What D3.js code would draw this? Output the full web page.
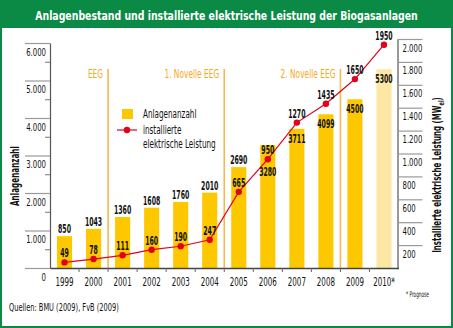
<!DOCTYPE html>
<html>
<head>
<meta charset="utf-8">
<script src="https://cdn.jsdelivr.net/npm/d3@7"></script>
<style>
  body { margin: 0; background: #fff; }
  svg text { font-family: "Liberation Sans Narrow", "DejaVu Sans Condensed", "Liberation Sans", sans-serif; }
</style>
</head>
<body>
<div id="chart"></div>
<script>
// Jahre, Anlagenzahl (linke Achse) und installierte Leistung in MW_el (rechte Achse)
var years = ["1999", "2000", "2001", "2002", "2003", "2004", "2005", "2006", "2007", "2008", "2009", "2010*"];
var anlagen = [850, 1043, 1360, 1608, 1760, 2010, 2690, 3280, 3711, 4099, 4500, 5300];
var leistung = [49, 78, 111, 160, 190, 247, 665, 950, 1270, 1435, 1650, 1950];

var leftTicks = [0, 1000, 2000, 3000, 4000, 5000, 6000];
var leftMinor = [500, 1500, 2500, 3500, 4500, 5500];
var rightTicks = [200, 400, 600, 800, 1000, 1200, 1400, 1600, 1800, 2000];

// EEG-Phasen: Beschriftung und erstes Jahr der Phase
var phaseLabels = ["EEG", "1. Novelle EEG", "2. Novelle EEG"];
var phaseStart = ["2001", "2005", "2009"];

var prognose = "2010*";

var green = "#0b8a46";
var yellow = "#fec800";
var paleYellow = "#fde7a4";
var red = "#e3001b";
var orange = "#f6a821";

var de = d3.formatLocale({ decimal: ",", thousands: ".", grouping: [3], currency: ["", " €"] });
var fmt = de.format(",");

// Schmalschrift nachbilden: Text horizontal um seinen Ankerpunkt stauchen
function squeeze(sel, k, rot) {
    sel.each(function () {
        var t = d3.select(this);
        var tx = +t.attr("x") || 0, ty = +t.attr("y") || 0;
        var f = typeof k === "function" ? k(this) : k;
        t.attr("x", 0).attr("y", 0)
            .attr("transform", "translate(" + tx + "," + ty + ")" + (rot ? " rotate(" + rot + ")" : "") + " scale(" + f + ",1)");
    });
}

function fitTo(w) {
    return function (node) { return Math.min(1, w / node.getComputedTextLength()); };
}

function drawChart() {
    var W = 453, H = 328;
    var base = 268;

    var svg = d3.select("#chart").append("svg")
        .attr("width", W)
        .attr("height", H);

    // Rahmen und Titelbalken
    svg.append("rect")
        .attr("x", 1).attr("y", 1)
        .attr("width", W - 2).attr("height", H - 2)
        .attr("fill", "#fff")
        .attr("stroke", green)
        .attr("stroke-width", 2);

    svg.append("rect")
        .attr("x", 0).attr("y", 0)
        .attr("width", W).attr("height", 28)
        .attr("fill", green);

    var title = svg.append("text")
        .attr("x", 226.5).attr("y", 20)
        .attr("text-anchor", "middle")
        .attr("fill", "#fff")
        .style("font-size", "13px")
        .style("font-weight", "bold")
        .text("Anlagenbestand und installierte elektrische Leistung der Biogasanlagen");
    squeeze(title, fitTo(383));

    var x = d3.scaleBand()
        .domain(years)
        .range([50, 398.5])
        .paddingInner(0.48)
        .paddingOuter(0.24);

    var yL = d3.scaleLinear().domain([0, 6000]).range([base, 43]);
    var yR = d3.scaleLinear().domain([0, 2000]).range([base, 39]);

    var gap = (x.step() - x.bandwidth()) / 2;

    // Trennlinien der EEG-Phasen
    var phaseText = svg.append("g");
    phaseStart.forEach(function (yr, i) {
        var px = x(yr) - gap;
        svg.append("line")
            .attr("x1", px).attr("x2", px)
            .attr("y1", 69).attr("y2", base)
            .attr("stroke", "#f7b84e")
            .attr("stroke-width", 1.6);
        phaseText.append("text")
            .attr("x", px - 5).attr("y", 77.5)
            .attr("text-anchor", "end")
            .attr("fill", orange)
            .style("font-size", "11.5px")
            .text(phaseLabels[i]);
    });
    squeeze(phaseText.selectAll("text"), 0.72);

    // Säulen
    svg.selectAll("rect.bar")
        .data(anlagen)
        .enter()
        .append("rect")
        .attr("class", "bar")
        .attr("x", function (d, i) { return x(years[i]); })
        .attr("y", function (d) { return yL(d); })
        .attr("width", x.bandwidth())
        .attr("height", function (d) { return base - yL(d); })
        .attr("fill", function (d, i) { return years[i] === prognose ? paleYellow : yellow; });

    // linke Achse
    var leftAxis = svg.append("g")
        .attr("transform", "translate(50,0)")
        .call(d3.axisLeft(yL).tickValues(leftTicks).tickSize(25).tickSizeOuter(0).tickFormat(fmt));
    leftAxis.select(".domain").attr("stroke", "#555").attr("stroke-width", 1.2);
    leftAxis.selectAll(".tick line").attr("stroke", "#9a9a9a").attr("stroke-width", 1.2);
    leftAxis.selectAll(".tick text")
        .attr("x", -4)
        .attr("dy", "1.1em")
        .attr("fill", "#111")
        .style("font-size", "11px");
    squeeze(leftAxis.selectAll(".tick text"), 0.7);

    var leftMinorAxis = svg.append("g")
        .attr("transform", "translate(50,0)")
        .call(d3.axisLeft(yL).tickValues(leftMinor).tickSize(5).tickSizeOuter(0).tickFormat(""));
    leftMinorAxis.select(".domain").remove();
    leftMinorAxis.selectAll(".tick line").attr("stroke", "#777");

    // rechte Achse
    var rightAxis = svg.append("g")
        .attr("transform", "translate(397.5,0)")
        .call(d3.axisRight(yR).tickValues(rightTicks).tickSize(25).tickSizeOuter(0).tickFormat(fmt));
    rightAxis.select(".domain").attr("stroke", "#555").attr("stroke-width", 1.2);
    rightAxis.selectAll(".tick line").attr("stroke", "#9a9a9a").attr("stroke-width", 1.2);
    rightAxis.selectAll(".tick text")
        .attr("x", 5)
        .attr("dy", "1.1em")
        .attr("fill", "#111")
        .style("font-size", "11px");
    squeeze(rightAxis.selectAll(".tick text"), 0.7);

    // x-Achse mit Jahreszahlen
    var xAxis = svg.append("g")
        .attr("transform", "translate(0," + base + ")")
        .call(d3.axisBottom(x).tickSize(0).tickPadding(9));
    xAxis.select(".domain").attr("stroke", "#444").attr("stroke-width", 1.3);
    xAxis.selectAll(".tick text")
        .attr("fill", "#111")
        .style("font-size", "12px");
    squeeze(xAxis.selectAll(".tick text"), 0.66);

    xAxis.selectAll("line.sep")
        .data(years.slice(1))
        .enter()
        .append("line")
        .attr("class", "sep")
        .attr("x1", function (d) { return x(d) - gap; })
        .attr("x2", function (d) { return x(d) - gap; })
        .attr("y1", 0).attr("y2", 4)
        .attr("stroke", "#666");

    // Linie der installierten Leistung
    var line = d3.line()
        .x(function (d, i) { return x(years[i]) + x.bandwidth() / 2; })
        .y(function (d) { return yR(d); });

    svg.append("path")
        .datum(leistung)
        .attr("d", line)
        .attr("fill", "none")
        .attr("stroke", red)
        .attr("stroke-width", 1.2);

    svg.selectAll("circle.pt")
        .data(leistung)
        .enter()
        .append("circle")
        .attr("class", "pt")
        .attr("cx", function (d, i) { return x(years[i]) + x.bandwidth() / 2; })
        .attr("cy", function (d) { return yR(d); })
        .attr("r", 3.2)
        .attr("fill", red);

    // Werte der Säulen: bis 2005 über der Säule, danach in der Säule
    var insideFrom = years.indexOf("2006");
    var barVals = svg.selectAll("text.barval")
        .data(anlagen)
        .enter()
        .append("text")
        .attr("class", "barval")
        .attr("x", function (d, i) { return x(years[i]) + x.bandwidth() / 2; })
        .attr("y", function (d, i) {
            var top = yL(d);
            if (i < insideFrom) return top - 3;
            var py = yR(leistung[i]);
            if (py > top - 2 && py < top + 16) return py + 17;
            return top + 14;
        })
        .attr("text-anchor", "middle")
        .attr("fill", "#111")
        .style("font-size", "11.5px")
        .style("font-weight", "bold")
        .text(function (d) { return d; });
    squeeze(barVals, 0.6);

    var lineVals = svg.selectAll("text.lineval")
        .data(leistung)
        .enter()
        .append("text")
        .attr("class", "lineval")
        .attr("x", function (d, i) { return x(years[i]) + x.bandwidth() / 2; })
        .attr("y", function (d) { return yR(d) - 5; })
        .attr("text-anchor", "middle")
        .attr("fill", "#111")
        .style("font-size", "11.5px")
        .style("font-weight", "bold")
        .text(function (d) { return d; });
    squeeze(lineVals, 0.6);

    // Legende
    var lg = svg.append("g");
    lg.append("rect")
        .attr("x", 122).attr("y", 109)
        .attr("width", 11).attr("height", 10)
        .attr("fill", yellow);
    lg.append("line")
        .attr("x1", 117).attr("x2", 137)
        .attr("y1", 130).attr("y2", 130)
        .attr("stroke", red)
        .attr("stroke-width", 1.2);
    lg.append("circle")
        .attr("cx", 127).attr("cy", 130)
        .attr("r", 3.2)
        .attr("fill", red);
    var lgText = lg.selectAll("text")
        .data(["Anlagenanzahl", "installierte", "elektrische Leistung"])
        .enter()
        .append("text")
        .attr("x", 143)
        .attr("y", function (d, i) { return [118, 134, 148][i]; })
        .attr("fill", "#111")
        .style("font-size", "11.5px")
        .text(function (d) { return d; });
    squeeze(lgText, 0.7);

    // Achsentitel
    var lt = svg.append("text")
        .attr("x", 19).attr("y", 176)
        .attr("text-anchor", "middle")
        .attr("fill", "#111")
        .style("font-size", "11.5px")
        .style("font-weight", "bold")
        .text("Anlagenanzahl");
    squeeze(lt, fitTo(60), -90);

    var rt = svg.append("text")
        .attr("x", 441).attr("y", 175)
        .attr("text-anchor", "middle")
        .attr("fill", "#111")
        .style("font-size", "11.5px")
        .style("font-weight", "bold");
    rt.append("tspan").text("Installierte elektrische Leistung (MW");
    rt.append("tspan").attr("dy", 3).style("font-size", "8px").text("el");
    rt.append("tspan").attr("dy", -3).text(")");
    squeeze(rt, fitTo(156), -90);

    // Fußnoten
    var pn = svg.append("text")
        .attr("x", 406).attr("y", 297)
        .attr("fill", "#111")
        .style("font-size", "8px")
        .text("* Prognose");
    squeeze(pn, fitTo(23));

    var q = svg.append("text")
        .attr("x", 9).attr("y", 311)
        .attr("fill", "#111")
        .style("font-size", "10.5px")
        .text("Quellen: BMU (2009), FvB (2009)");
    squeeze(q, fitTo(110));
}

drawChart();
</script>
</body>
</html>
